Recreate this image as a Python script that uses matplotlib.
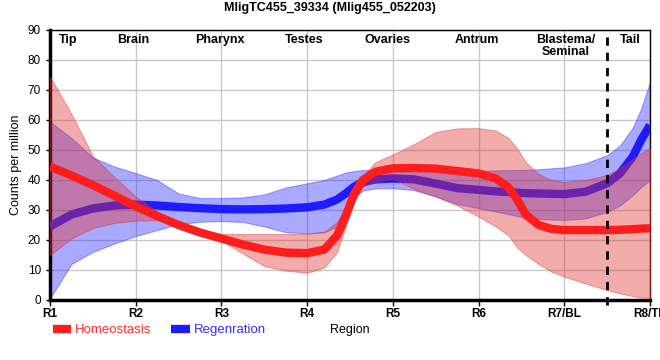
import matplotlib
matplotlib.use("Agg")
import matplotlib.pyplot as plt

plt.rcParams['font.family'] = ['Liberation Sans', 'DejaVu Sans']

# region positions (R1..R8) and read-off values
x = [1.0, 1.25, 1.5, 1.75, 2.0, 2.25, 2.5, 2.75, 3.0, 3.25, 3.5, 3.75, 4.0,
     4.2, 4.35, 4.45, 4.55, 4.65, 4.8, 5.0, 5.25, 5.5, 5.75, 6.0, 6.2, 6.35,
     6.45, 6.55, 6.7, 6.85, 7.0, 7.25, 7.5, 7.65, 7.8, 7.9, 8.0]

homeo_mean = [44.5, 41.5, 38.3, 34.8, 31.2, 28.0, 25.0, 22.5, 20.5, 18.5, 16.8, 15.8, 15.6,
              16.8, 21.5, 28.0, 35.5, 40.0, 42.8, 43.9, 44.0, 43.8, 43.0, 42.2, 40.5, 37.5,
              33.5, 28.5, 25.0, 23.7, 23.3, 23.3, 23.3, 23.4, 23.6, 23.8, 23.9]
homeo_hi = [74.5, 62.0, 48.0, 41.0, 34.5, 29.5, 25.8, 23.5, 22.0, 22.0, 22.0, 22.0, 22.0,
            22.8, 26.0, 31.0, 37.0, 41.5, 46.0, 48.5, 52.0, 56.0, 57.2, 57.3, 56.5, 54.0,
            50.5, 46.0, 42.0, 40.0, 39.4, 40.0, 41.7, 44.0, 47.0, 49.0, 50.6]
homeo_lo = [15.0, 20.5, 24.0, 25.7, 26.4, 26.7, 24.5, 21.8, 19.8, 15.5, 11.3, 9.8, 9.1,
            10.8, 16.0, 24.5, 33.0, 37.8, 39.5, 40.5, 37.0, 34.5, 31.5, 27.8, 24.5, 21.5,
            17.5, 15.0, 12.0, 9.5, 7.8, 5.5, 3.3, 2.2, 1.3, 0.9, 0.6]

regen_mean = [24.5, 28.5, 30.5, 31.5, 31.8, 31.5, 31.0, 30.6, 30.3, 30.2, 30.3, 30.5, 30.9,
              31.8, 33.5, 35.5, 37.8, 39.3, 40.2, 40.5, 40.2, 38.8, 37.3, 36.7, 36.2, 36.0,
              35.8, 35.6, 35.5, 35.4, 35.3, 36.1, 38.9, 42.2, 47.8, 53.5, 58.3]
regen_hi = [59.5, 54.0, 47.5, 44.5, 42.3, 40.0, 35.5, 34.0, 34.0, 34.2, 35.2, 37.5, 38.9,
            40.0, 41.5, 42.5, 43.0, 43.3, 43.3, 43.2, 43.0, 43.0, 43.0, 43.1, 43.2, 43.3,
            43.3, 43.4, 43.6, 43.9, 44.2, 45.6, 48.3, 51.5, 57.5, 64.0, 72.8]
regen_lo = [0.5, 12.0, 16.0, 18.8, 21.3, 23.3, 25.3, 26.1, 26.3, 26.0, 24.5, 22.6, 22.2,
            22.6, 24.5, 29.0, 34.0, 36.5, 37.2, 37.3, 36.6, 34.5, 32.0, 30.6, 29.5, 28.6,
            28.0, 27.3, 27.0, 26.8, 26.7, 27.2, 29.4, 31.5, 35.0, 37.7, 40.0]

tick_pos = [1, 2, 3, 4, 5, 6, 7, 8]
tick_labels = ['R1', 'R2', 'R3', 'R4', 'R5', 'R6', 'R7/BL', 'R8/TL']
tissue_names = ['Tip', 'Brain', 'Pharynx', 'Testes', 'Ovaries', 'Antrum', 'Blastema/\nSeminal', 'Tail']
tissue_pos = [1.21, 1.97, 2.98, 3.96, 4.94, 5.98, 7.02, 7.77]

fig = plt.figure(figsize=(6.6, 3.6), dpi=100)
ax = fig.add_axes([50 / 660, 60 / 360, 600 / 660, 270 / 360])

# bands and mean lines (order matters for the overlap colours)
ax.fill_between(x, regen_lo, regen_hi, color='#2a2aff', alpha=0.4, lw=0.8, zorder=2)
ax.plot(x, regen_mean, color='#1c1cff', lw=6, solid_capstyle='butt', solid_joinstyle='round',
        zorder=3, label='Regenration')
ax.fill_between(x, homeo_lo, homeo_hi, color='#e23030', alpha=0.4, lw=0.8, zorder=4)
ax.plot(x, homeo_mean, color='#ff1c1c', lw=6, solid_capstyle='butt', solid_joinstyle='round',
        zorder=5, label='Homeostasis')

ax.axvline(7.5, ymin=-0.02, ymax=1, color='black', lw=2, ls=(0, (3, 2.5)), zorder=6, clip_on=False)

ax.set_xlim(1, 8)
ax.set_ylim(0, 90)
ax.set_yticks(range(0, 91, 10))
ax.set_xticks(tick_pos)
ax.set_xticklabels(tick_labels, fontsize=8.5, fontweight='bold')
ax.tick_params(axis='y', labelsize=8.5, length=3, width=1)
ax.tick_params(axis='x', length=4, width=1, pad=2)
ax.grid(True, color='#c8c8c8', lw=1, zorder=0)
ax.set_axisbelow(True)

for side in ['top', 'right']:
    ax.spines[side].set_linewidth(1)
for side in ['left', 'bottom']:
    ax.spines[side].set_linewidth(2.5)

for name, pos in zip(tissue_names, tissue_pos):
    ax.text(pos, 88.8, name, ha='center', va='top', fontsize=9, fontweight='bold',
            linespacing=1.0, zorder=7)

ax.set_ylabel('Counts per million', fontsize=9, labelpad=4)
fig.text(0.5, 1 - 8 / 360, 'MligTC455_39334 (Mlig455_052203)', ha='center', va='center',
         fontsize=9, fontweight='bold')

handles, labels = ax.get_legend_handles_labels()
fig.legend(handles[::-1], labels[::-1], loc='center left', bbox_to_anchor=(50 / 660, 1 - 330 / 360),
           ncol=2, frameon=False, fontsize=9.5, handlelength=1.4, handletextpad=0.3,
           columnspacing=1.5, borderaxespad=0, borderpad=0.2, labelcolor=['#ff3030', '#3030ff'])
fig.text(350 / 660, 1 - 330 / 360, 'Region', ha='center', va='center', fontsize=9)

fig.savefig('out.png', dpi=100)
